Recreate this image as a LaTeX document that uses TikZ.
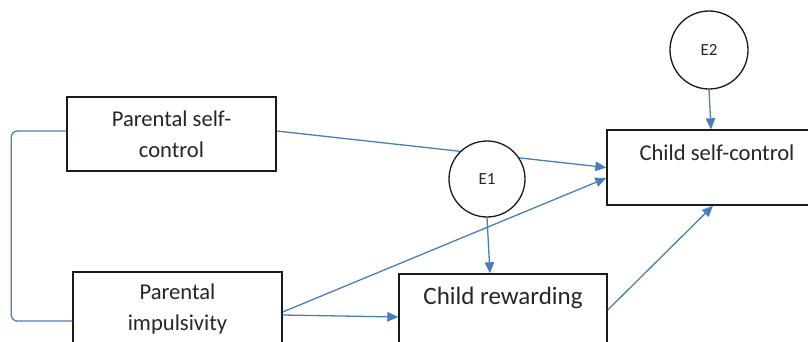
\documentclass[tikz,border=0pt]{standalone}
\usepackage{fontspec}
\setmainfont{Carlito}
\usetikzlibrary{arrows.meta}
\definecolor{linkblue}{HTML}{4A7EBB}
\definecolor{boxline}{HTML}{1A1A1A}
\begin{document}
\begin{tikzpicture}[x=1pt,y=-1pt,
  var/.style={draw=boxline,line width=1.4pt,minimum width=209pt,minimum height=74pt,
    inner sep=0pt,align=center,text=black!85,font=\fontsize{22.6}{31}\selectfont},
  err/.style={circle,draw=boxline,line width=1.3pt,fill=white,inner sep=0pt,
    text=black!85,font=\fontsize{17}{20}\selectfont},
  link/.style={draw=linkblue,line width=1.3pt,-{Triangle[length=11pt,width=9.5pt]}},
  bracket/.style={draw=linkblue,line width=1.3pt,rounded corners=6pt}]
\useasboundingbox (0,0) rectangle (808,342);
\clip (0,0) rectangle (808,342);

\node[var] (psc) at (171.5,134) {Parental self-\\control};
\node[var] (pimp) at (177.5,309) {Parental\\impulsivity};
\node[var,minimum width=220pt,minimum height=75pt,text height=16pt,text depth=30pt]
  (csc) at (717,167.5) {Child self-control};
\node[var,minimum width=208pt,minimum height=75pt,text height=18pt,text depth=33pt,
  font=\fontsize{25}{30}\selectfont] (crew) at (503,311.5) {Child rewarding};

% correlation between the two parent measures
\draw[bracket] ([yshift=3pt]psc.west) -- ++(-55,0) |- ([yshift=-12pt]pimp.west);

\draw[link] ([yshift=3pt]psc.east) to (csc.west);
\draw[link] ([yshift=-3pt]pimp.east) to ([yshift=-10.5pt]csc.west);
\draw[link] ([yshift=-6pt]pimp.east) to ([yshift=-5.5pt]crew.west);
\draw[link] ([yshift=1.5pt]crew.east) to ([xshift=-4pt]csc.south);

\node[err,minimum size=76pt] (E1) at (487,179) {E1};
\node[err,minimum size=78pt] (E2) at (709,50) {E2};
\draw[link] (E1.south) to ([xshift=-13pt]crew.north);
\draw[link] (E2.south) to ([xshift=-6pt]csc.north);
\end{tikzpicture}
\end{document}
